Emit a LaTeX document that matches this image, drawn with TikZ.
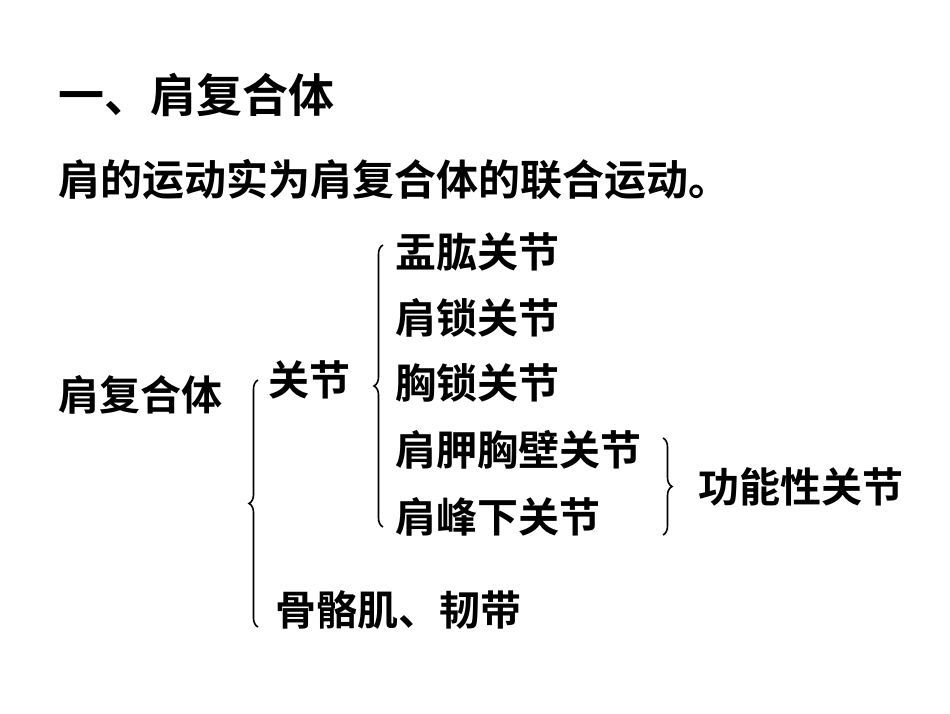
\documentclass[tikz,border=0pt]{standalone}
\usepackage{fontspec}
\setmainfont{Noto Sans CJK SC Bold}
\usetikzlibrary{decorations.pathreplacing}
\begin{document}
\begin{tikzpicture}[x=1pt,y=1pt,
  txt/.style={anchor=west,inner sep=0pt,font=\fontsize{41}{48}\selectfont},
  br/.style={decorate,decoration={brace,amplitude=9pt},line width=1.6pt}]
\useasboundingbox[fill=white] (0,0) rectangle (950,-713);
\node[txt,font=\fontsize{46}{52}\selectfont] (t) at (58,-95) {一、肩复合体};
\node[txt,font=\fontsize{42}{48}\selectfont] (s) at (58,-180) {肩的运动实为肩复合体的联合运动。};
\node[txt] (a) at (395,-252) {盂肱关节};
\node[txt] (b) at (395,-318) {肩锁关节};
\node[txt] (c) at (395,-383) {胸锁关节};
\node[txt] (d) at (395,-450) {肩胛胸壁关节};
\node[txt] (e) at (395,-517) {肩峰下关节};
\node[txt] (f) at (698,-487) {功能性关节};
\node[txt] (g) at (58,-395) {肩复合体};
\node[txt] (h) at (268,-380) {关节};
\node[txt] (i) at (275,-610) {骨骼肌、韧带};
\coordinate (b1t) at (258,-380); \coordinate (b1b) at (258,-627);
\coordinate (b2t) at (383,-245); \coordinate (b2b) at (383,-527);
\coordinate (b3t) at (663,-438); \coordinate (b3b) at (663,-535);
\draw[br] (b1b) -- (b1t);
\draw[br] (b2b) -- (b2t);
\draw[br] (b3t) -- (b3b);
\end{tikzpicture}
\end{document}
